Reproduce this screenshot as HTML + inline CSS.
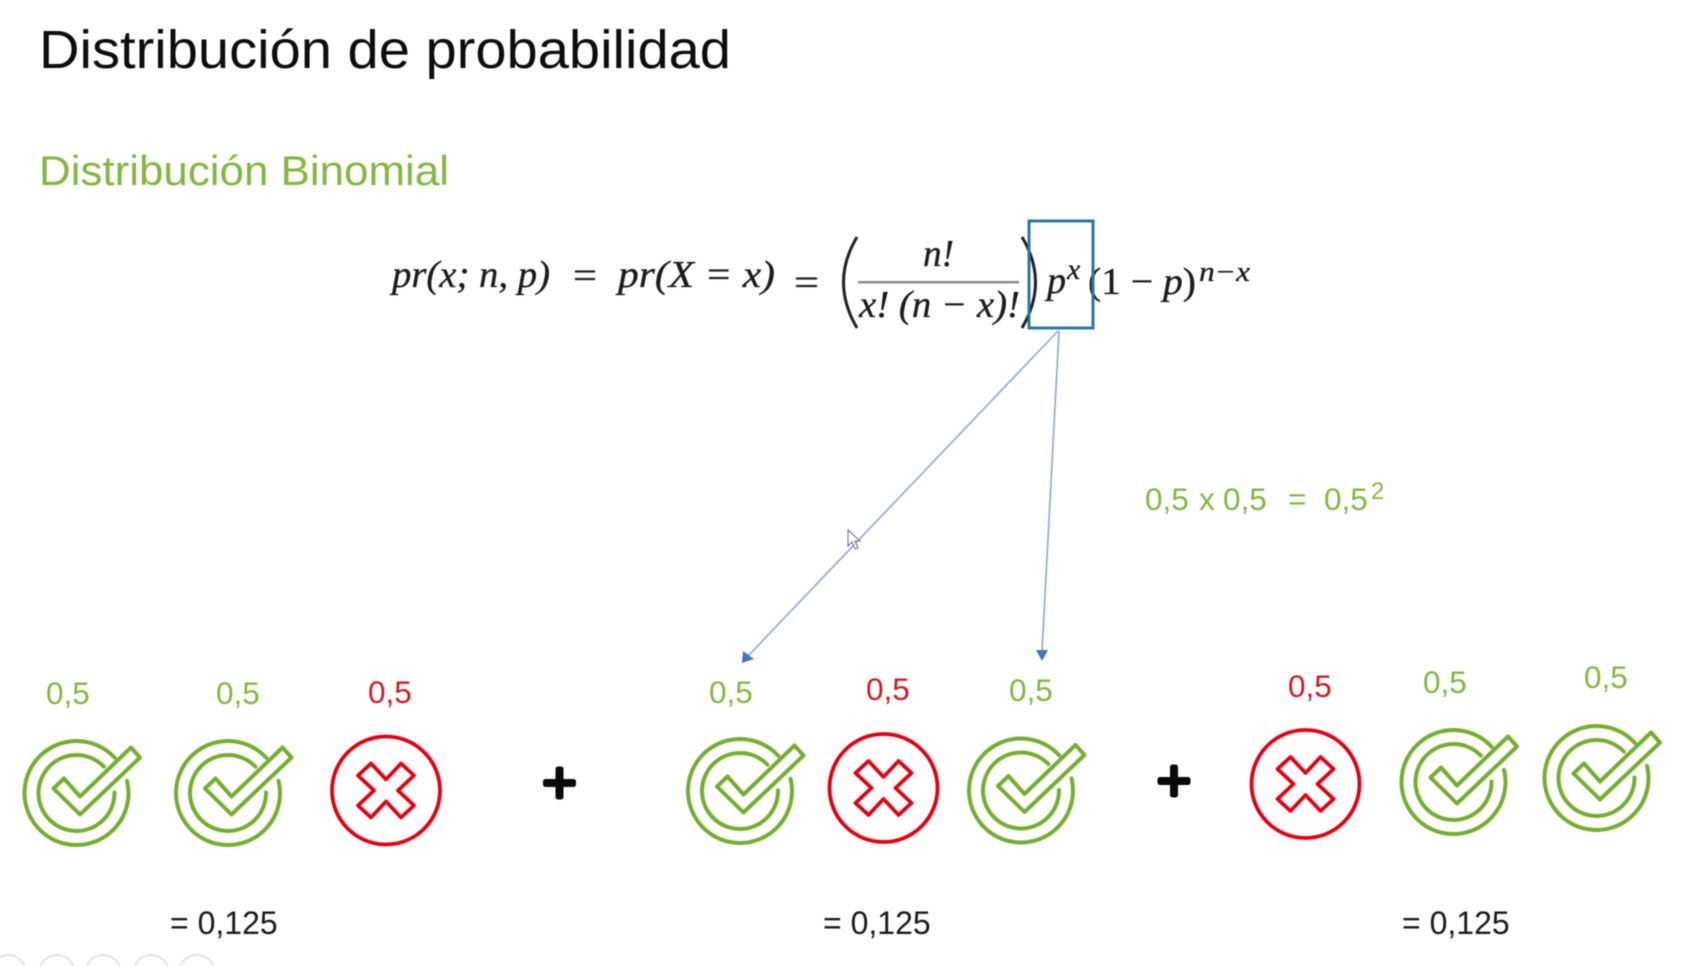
<!DOCTYPE html>
<html lang="es">
<head>
<meta charset="utf-8">
<title>Distribución de probabilidad</title>
<style>
html,body{margin:0;padding:0;background:#fff;width:1697px;height:966px;overflow:hidden}
svg{display:block;filter:blur(0.45px)}
.sans{font-family:"Liberation Sans",sans-serif}
.lab{font-family:"Liberation Sans",sans-serif;font-size:31.5px}
.g{fill:#84b73f}
.r{fill:#cf1b2b}
.k{fill:#1a1a1a}
.m{font-family:"Liberation Serif",serif;font-style:italic;font-size:38px;fill:#1c1c1c;stroke:#1c1c1c;stroke-width:.35px}
.mu{font-family:"Liberation Serif",serif;font-size:38px;fill:#1c1c1c;stroke:#1c1c1c;stroke-width:.35px}
</style>
</head>
<body>
<svg width="1697" height="966" viewBox="0 0 1697 966" xmlns="http://www.w3.org/2000/svg">
<defs>
  <g id="check-icon" fill="none" stroke="#76ae2f" stroke-width="4" stroke-linejoin="round" stroke-linecap="round">
    <path d="M38.27,-35.2 A52,52 0 1 0 50.56,-12.14"/>
    <path d="M27.38,-26.35 A38,38 0 1 0 38,-0.5"/>
    <path d="M54.5,-45.5 L63.5,-35.5 L3.5,21.5 L-23,-4.5 L-12.5,-14.5 L3.5,3.5 Z"/>
  </g>
  <g id="cross-icon" fill="none" stroke="#e60012" stroke-width="3.8" stroke-linejoin="round">
    <ellipse cx="0" cy="0" rx="54" ry="54"/>
    <path d="M0,-11 L15,-27 L28,-15 L12,0 L28,15 L15,27 L0,11 L-15,27 L-28,15 L-12,0 L-28,-15 L-15,-27 Z"/>
  </g>
  <g id="plus-icon" fill="#0a0a0a">
    <rect x="-16.5" y="-4" width="33" height="8" rx="2.5"/>
    <rect x="-4" y="-16.5" width="8" height="33" rx="2.5"/>
  </g>
</defs>

<rect width="1697" height="966" fill="#fff"/>

<text class="sans" x="39" y="68" font-size="54" textLength="692" lengthAdjust="spacingAndGlyphs" fill="#0d0d0d">Distribución de probabilidad</text>
<text class="sans" x="39" y="185" font-size="42" textLength="410" lengthAdjust="spacingAndGlyphs" fill="#84b73f">Distribución Binomial</text>

<g>
  <text class="m" x="392" y="287" textLength="158" lengthAdjust="spacingAndGlyphs">pr(x; n, p)</text>
  <text class="mu" x="573" y="288" textLength="24" lengthAdjust="spacingAndGlyphs">=</text>
  <text class="m" x="618" y="287" textLength="157" lengthAdjust="spacingAndGlyphs">pr(X = x)</text>
  <text class="mu" x="794" y="295" textLength="25" lengthAdjust="spacingAndGlyphs">=</text>
  <path d="M857,237 Q830,282 857,328" fill="none" stroke="#222" stroke-width="3"/>
  <text class="m" x="923" y="266" textLength="31" lengthAdjust="spacingAndGlyphs">n!</text>
  <rect x="858" y="281" width="161" height="2.4" fill="#8f8585"/>
  <text class="m" x="859" y="317" textLength="161" lengthAdjust="spacingAndGlyphs">x! (n − x)!</text>
  <path d="M1022,237 Q1049,282 1022,328" fill="none" stroke="#222" stroke-width="3"/>
  <text class="m" x="1047" y="293">p</text>
  <text class="m" x="1067" y="279" style="font-size:30px">x</text>
  <text class="mu" x="1088" y="294" textLength="108" lengthAdjust="spacingAndGlyphs">(1 − <tspan font-style="italic">p</tspan>)</text>
  <text class="m" x="1199" y="281" textLength="51" lengthAdjust="spacingAndGlyphs" style="font-size:28px">n−x</text>
  <rect x="1029" y="221" width="64" height="107" fill="none" stroke="#2a76ab" stroke-width="3"/>
</g>

<g>
  <line x1="1058" y1="331" x2="748" y2="656" stroke="#8fa6d4" stroke-width="1.6"/>
  <polygon points="742,663 743,651 754,659" fill="#4472c4"/>
  <line x1="1059" y1="331" x2="1042" y2="652" stroke="#8fa6d4" stroke-width="1.6"/>
  <polygon points="1042,661 1036,650 1048,650" fill="#4472c4"/>
</g>

<polygon points="848,530 848,546 852,542 855,549 858,548 855,541 860,541" fill="#fff" stroke="#777" stroke-width="1.1"/>

<text class="lab g" x="1145" y="510">0,5</text>
<text class="lab g" x="1199" y="510">x</text>
<text class="lab g" x="1223" y="510">0,5</text>
<text class="lab g" x="1288" y="510">=</text>
<text class="lab g" x="1324" y="510">0,5</text>
<text class="sans g" x="1371" y="499" font-size="24">2</text>

<g>
  <text class="lab g" x="46" y="704">0,5</text>
  <text class="lab g" x="216" y="704">0,5</text>
  <text class="lab r" x="368" y="703">0,5</text>
  <text class="lab g" x="709" y="703">0,5</text>
  <text class="lab r" x="866" y="700">0,5</text>
  <text class="lab g" x="1009" y="701">0,5</text>
  <text class="lab r" x="1288" y="697">0,5</text>
  <text class="lab g" x="1423" y="693">0,5</text>
  <text class="lab g" x="1584" y="688">0,5</text>
</g>

<g>
  <use href="#check-icon" x="76.5" y="793"/>
  <use href="#check-icon" x="228" y="793"/>
  <use href="#cross-icon" x="386" y="790.5"/>
  <use href="#plus-icon" x="559.5" y="783"/>
  <use href="#check-icon" x="740" y="791"/>
  <use href="#cross-icon" x="883.5" y="788"/>
  <use href="#check-icon" x="1021" y="790.5"/>
  <use href="#plus-icon" x="1174" y="781"/>
  <use href="#cross-icon" x="1305.5" y="784"/>
  <use href="#check-icon" x="1453.5" y="782"/>
  <use href="#check-icon" x="1596.5" y="778"/>
</g>

<text class="lab k" x="170" y="934" style="font-size:32px">= 0,125</text>
<text class="lab k" x="823" y="934" style="font-size:32px">= 0,125</text>
<text class="lab k" x="1402" y="934" style="font-size:32px">= 0,125</text>

<g fill="none" stroke="#e2e2e2" stroke-width="2">
  <circle cx="8" cy="973" r="18"/>
  <circle cx="57" cy="973" r="18"/>
  <circle cx="103" cy="973" r="18"/>
  <circle cx="151" cy="973" r="18"/>
  <circle cx="197" cy="973" r="18"/>
</g>
</svg>
</body>
</html>
